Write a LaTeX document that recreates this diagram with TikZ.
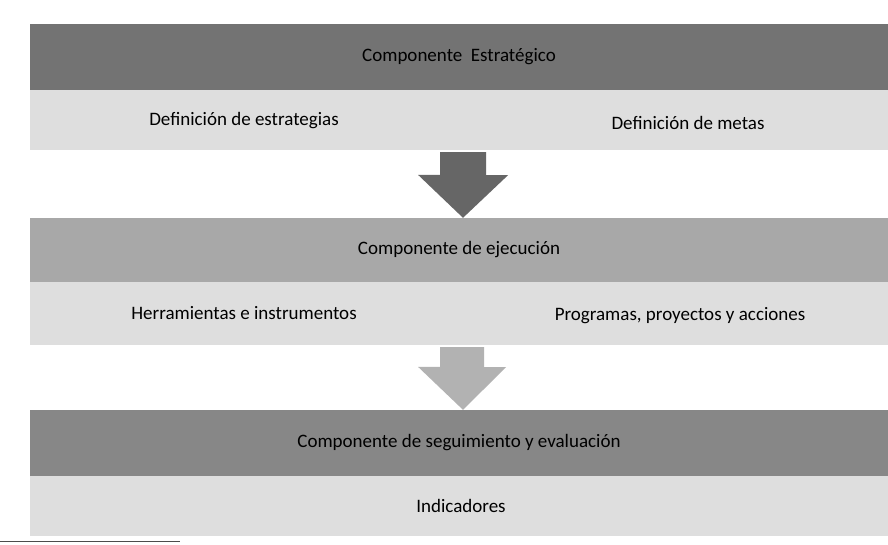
\documentclass[tikz,border=0pt]{standalone}
\usepackage{fontspec}
\setmainfont{Carlito}
\usepackage{tikz}
\usetikzlibrary{calc}

\definecolor{bandA}{gray}{0.45}
\definecolor{bandB}{gray}{0.66}
\definecolor{bandC}{gray}{0.53}
\definecolor{luz}{gray}{0.87}
\definecolor{flechaA}{gray}{0.40}
\definecolor{flechaB}{gray}{0.70}

\begin{document}
\begin{tikzpicture}[x=1pt, y=-1pt,
    band/.style={rectangle, inner sep=0pt, minimum width=858pt, font=\fontsize{19}{22}\selectfont},
    txt/.style={inner sep=0pt, font=\fontsize{19}{22}\selectfont}]
    \useasboundingbox[fill=white] (0,0) rectangle (888,544);
    % bandas
    \node[band, fill=bandA, minimum height=66pt] (estr) at (459,57) {Componente\ \ Estratégico};
    \node[band, fill=luz, minimum height=60pt] (luzA) at (459,120) {};
    \node[band, fill=bandB, minimum height=64pt] (ejec) at (459,250) {Componente de ejecución};
    \node[band, fill=luz, minimum height=63pt] (luzB) at (459,313.5) {};
    \node[band, fill=bandC, minimum height=66pt] (segu) at (459,443) {Componente de seguimiento y evaluación};
    \node[band, fill=luz, minimum height=60pt] (luzC) at (459,506) {};
    % textos
    \node[txt] (estrat) at (244,121) {Definición de estrategias};
    \node[txt] (metas) at (688,123) {Definición de metas};
    \node[txt] (herr) at (244,313) {Herramientas e instrumentos};
    \node[txt] (prog) at (680,316) {Programas, proyectos y acciones};
    \node[txt] (indic) at (461,506) {Indicadores};
    % flechas
    \fill[flechaA] ($(luzA.south)+(-19,2)$) -- ++(46,0) -- ++(0,23) -- ++(22,0)
        -- ($(ejec.north)+(4,0)$) -- ++(-45,-43) -- ++(22,0) -- cycle;
    \fill[flechaB] ($(luzB.south)+(-19,2)$) -- ++(44,0) -- ++(0,20) -- ++(22,0)
        -- ($(segu.north)+(4,0)$) -- ++(-45,-43) -- ++(22,0) -- cycle;
    \draw[black!70, line width=0.8pt] (0,541) -- (180,541);
\end{tikzpicture}
\end{document}
